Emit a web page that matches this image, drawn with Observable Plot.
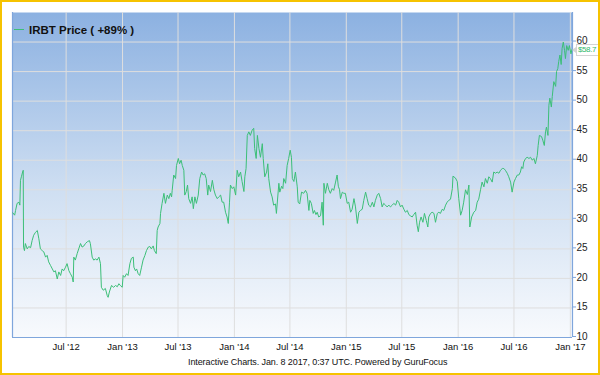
<!DOCTYPE html>
<html>
<head>
<meta charset="utf-8">
<script src="https://cdn.jsdelivr.net/npm/d3@7"></script>
<script src="https://cdn.jsdelivr.net/npm/@observablehq/plot@0.6"></script>
<style>
  html, body { margin: 0; padding: 0; background: #fff; }
  #wrap { position: relative; width: 600px; height: 375px; overflow: hidden; font-family: "Liberation Sans", Arial, sans-serif; }
  #wrap svg { position: absolute; left: 0; top: 0; }
  #border { position: absolute; left: 0; top: 0; width: 600px; height: 375px; box-sizing: border-box; border: 2px solid #f6c300; pointer-events: none; }
  #legend { position: absolute; left: 14px; top: 22px; font-size: 11.5px; font-weight: bold; color: #111; white-space: nowrap; line-height: 16px; }
  #legend .sw { display: inline-block; width: 10px; height: 0; border-top: 1px solid #3cbf78; vertical-align: middle; margin-right: 5px; position: relative; top: -1px; }
  #caption { position: absolute; left: 188px; top: 357px; font-size: 9px; color: #111; white-space: nowrap; letter-spacing: -0.1px; }
  #last { position: absolute; left: 576px; width: 20px; height: 10px; line-height: 10px; padding: 0 0 0 1px; background: #fff; border: 1px solid #d4d4d4; color: #2fb86c; font-size: 8px; letter-spacing: -0.4px; white-space: nowrap; overflow: hidden; }
  #lastArrow { position: absolute; left: 572px; width: 0; height: 0; border-top: 3px solid transparent; border-bottom: 3px solid transparent; border-right: 4px solid #d4d4d4; }
</style>
</head>
<body>
<div id="wrap">
  <div id="legend"><span class="sw"></span>IRBT Price ( +89% )</div>
  <div id="caption">Interactive Charts. Jan. 8 2017, 0:37 UTC. Powered by GuruFocus</div>
</div>
<script>
// ---- data ----
const dates = [
"2012-01-09","2012-01-15","2012-01-18","2012-01-23","2012-01-29","2012-02-01","2012-02-03","2012-02-06","2012-02-10","2012-02-12",
"2012-02-13","2012-02-16","2012-02-19","2012-02-25","2012-03-01","2012-03-07","2012-03-12","2012-03-17","2012-03-23","2012-03-29",
"2012-04-03","2012-04-08","2012-04-14","2012-04-19","2012-04-25","2012-04-30","2012-05-05","2012-05-11","2012-05-17","2012-05-22",
"2012-05-27","2012-06-02","2012-06-07","2012-06-13","2012-06-18","2012-06-23","2012-06-29","2012-07-04","2012-07-10","2012-07-15",
"2012-07-21","2012-07-24","2012-07-26","2012-07-31","2012-08-06","2012-08-11","2012-08-17","2012-08-22","2012-08-28","2012-09-02",
"2012-09-08","2012-09-15","2012-09-18","2012-09-24","2012-09-29","2012-10-05","2012-10-10","2012-10-16","2012-10-21","2012-10-24",
"2012-10-30","2012-11-06","2012-11-12","2012-11-15","2012-11-19","2012-11-26","2012-12-03","2012-12-09","2012-12-15","2012-12-20",
"2012-12-25","2012-12-31","2013-01-03","2013-01-08","2013-01-14","2013-01-19","2013-01-25","2013-01-30","2013-02-05","2013-02-07",
"2013-02-12","2013-02-16","2013-02-21","2013-02-26","2013-03-04","2013-03-09","2013-03-15","2013-03-20","2013-03-26","2013-03-31",
"2013-04-05","2013-04-11","2013-04-15","2013-04-21","2013-04-24","2013-04-27","2013-05-03","2013-05-05","2013-05-10","2013-05-16",
"2013-05-21","2013-05-27","2013-06-01","2013-06-06","2013-06-10","2013-06-12","2013-06-17","2013-06-23","2013-06-26","2013-07-02",
"2013-07-06","2013-07-11","2013-07-15","2013-07-20","2013-07-23","2013-07-28","2013-08-01","2013-08-05","2013-08-11","2013-08-16",
"2013-08-20","2013-08-25","2013-08-30","2013-09-05","2013-09-10","2013-09-16","2013-09-21","2013-09-26","2013-10-01","2013-10-06",
"2013-10-09","2013-10-15","2013-10-21","2013-10-26","2013-10-31","2013-11-06","2013-11-11","2013-11-17","2013-11-22","2013-11-27",
"2013-12-03","2013-12-08","2013-12-12","2013-12-16","2013-12-19","2013-12-25","2013-12-30","2014-01-05","2014-01-10","2014-01-15",
"2014-01-21","2014-01-26","2014-02-01","2014-02-04","2014-02-08","2014-02-12","2014-02-17","2014-02-22","2014-02-28","2014-03-05",
"2014-03-08","2014-03-13","2014-03-17","2014-03-22","2014-03-27","2014-04-02","2014-04-05","2014-04-10","2014-04-16","2014-04-20",
"2014-04-23","2014-04-29","2014-05-04","2014-05-09","2014-05-15","2014-05-18","2014-05-26","2014-05-29","2014-06-04","2014-06-08",
"2014-06-11","2014-06-17","2014-06-22","2014-06-27","2014-07-02","2014-07-06","2014-07-09","2014-07-14","2014-07-19","2014-07-25",
"2014-07-28","2014-08-02","2014-08-08","2014-08-15","2014-08-21","2014-08-26","2014-09-01","2014-09-04","2014-09-09","2014-09-15",
"2014-09-19","2014-09-24","2014-09-28","2014-10-03","2014-10-09","2014-10-14","2014-10-18","2014-10-20","2014-10-25","2014-10-31",
"2014-11-05","2014-11-10","2014-11-16","2014-11-21","2014-11-27","2014-12-02","2014-12-06","2014-12-10","2014-12-13","2014-12-19",
"2014-12-24","2014-12-29","2015-01-04","2015-01-09","2015-01-15","2015-01-20","2015-01-26","2015-01-31","2015-02-06","2015-02-11",
"2015-02-16","2015-02-22","2015-02-27","2015-03-05","2015-03-10","2015-03-15","2015-03-21","2015-03-27","2015-04-01","2015-04-06",
"2015-04-12","2015-04-17","2015-04-23","2015-04-28","2015-05-03","2015-05-09","2015-05-14","2015-05-20","2015-05-25","2015-05-31",
"2015-06-05","2015-06-11","2015-06-16","2015-06-21","2015-06-27","2015-07-02","2015-07-08","2015-07-13","2015-07-19","2015-07-24",
"2015-07-29","2015-08-04","2015-08-09","2015-08-15","2015-08-20","2015-08-24","2015-08-28","2015-09-02","2015-09-08","2015-09-13",
"2015-09-19","2015-09-24","2015-09-27","2015-10-03","2015-10-08","2015-10-14","2015-10-19","2015-10-25","2015-10-30","2015-11-04",
"2015-11-10","2015-11-15","2015-11-21","2015-11-26","2015-12-01","2015-12-07","2015-12-13","2015-12-15","2015-12-23","2015-12-29",
"2016-01-03","2016-01-09","2016-01-14","2016-01-19","2016-01-25","2016-01-31","2016-02-05","2016-02-08","2016-02-14","2016-02-21",
"2016-02-27","2016-03-03","2016-03-08","2016-03-14","2016-03-19","2016-03-25","2016-03-30","2016-04-05","2016-04-10","2016-04-15",
"2016-04-21","2016-04-26","2016-05-02","2016-05-07","2016-05-13","2016-05-18","2016-05-24","2016-05-29","2016-06-03","2016-06-09",
"2016-06-14","2016-06-20","2016-06-25","2016-07-01","2016-07-06","2016-07-12","2016-07-17","2016-07-22","2016-07-26","2016-07-30",
"2016-08-02","2016-08-08","2016-08-13","2016-08-19","2016-08-24","2016-08-30","2016-09-04","2016-09-09","2016-09-15","2016-09-18",
"2016-09-22","2016-09-29","2016-10-03","2016-10-08","2016-10-12","2016-10-15","2016-10-20","2016-10-23","2016-10-26","2016-10-31",
"2016-11-03","2016-11-08","2016-11-14","2016-11-17","2016-11-21","2016-11-24","2016-11-28","2016-12-02","2016-12-05","2016-12-09",
"2016-12-13","2016-12-16","2016-12-20","2016-12-25","2016-12-29","2017-01-03","2017-01-06"
];
const prices = [
31.1,30.7,31.5,32.7,32.9,32.4,36.6,37.2,38.0,38.3,
25.3,24.7,25.9,25.0,25.4,25.2,26.4,27.3,27.8,28.1,
26.7,25.0,24.7,24.5,23.6,23.9,22.8,22.2,21.6,21.1,
21.3,19.9,21.1,20.5,21.6,21.3,21.9,22.5,21.3,20.8,
20.2,19.4,23.6,23.1,24.2,25.0,25.9,25.3,25.5,25.9,
26.2,26.4,25.9,23.6,23.1,23.3,23.1,23.6,22.5,18.5,
18.0,18.3,17.1,16.8,17.7,18.8,18.5,18.8,18.6,19.1,
18.8,18.5,20.5,20.2,20.8,20.5,22.5,23.4,23.6,21.9,
21.3,21.6,20.8,20.5,21.9,23.1,23.9,24.7,25.3,25.4,
25.0,25.5,24.7,24.2,28.1,28.7,29.3,31.0,32.7,34.4,
32.7,34.1,33.5,34.4,33.8,34.9,37.5,36.9,39.1,40.3,
39.4,40.0,39.1,38.3,34.1,34.7,35.8,33.5,32.7,33.8,
31.8,33.8,32.7,34.1,36.9,38.0,37.5,37.7,36.9,34.1,
35.8,34.7,36.6,35.0,34.1,33.5,33.8,34.1,32.9,32.9,
31.2,30.4,29.3,32.9,35.8,35.2,35.5,34.1,38.3,37.2,
38.0,36.4,34.7,37.2,38.6,44.2,44.8,44.2,45.1,45.4,
42.0,40.3,44.2,42.0,40.5,42.8,40.3,37.2,38.0,39.4,
36.9,34.6,33.8,32.4,32.6,31.0,36.1,34.6,35.6,35.2,
36.9,36.1,39.1,40.3,41.7,40.5,36.9,36.4,38.0,35.5,
32.9,32.6,34.6,34.4,34.9,34.4,31.5,33.2,32.7,31.0,
31.5,30.8,31.2,30.4,30.6,32.9,29.0,36.1,34.4,36.1,
35.0,34.4,35.2,34.9,36.3,37.5,35.6,35.0,33.5,34.6,
34.4,34.4,32.7,32.9,31.2,31.7,33.5,32.1,29.3,31.2,
31.5,31.7,33.2,34.6,33.5,32.4,32.1,32.9,32.1,33.2,
34.1,34.4,33.5,32.1,32.7,32.4,32.1,32.4,32.1,32.4,
32.7,32.4,33.2,32.9,32.1,32.4,31.7,31.2,31.5,30.8,
30.6,30.4,30.8,31.2,29.0,27.9,29.5,30.4,29.5,31.0,
29.8,28.7,30.4,31.0,31.2,31.0,29.5,31.0,31.2,31.0,
31.7,31.5,32.4,32.9,33.2,33.4,35.2,37.3,37.0,36.4,
33.5,30.7,31.5,32.9,35.0,34.2,35.8,28.7,30.4,31.2,
31.5,32.9,33.4,35.0,36.3,35.5,36.9,36.1,37.2,36.9,
36.3,38.0,37.8,38.0,37.8,38.3,38.6,38.6,38.3,37.8,
37.2,36.3,34.6,36.3,36.9,37.5,37.5,38.0,38.9,38.6,
39.7,40.3,40.5,40.3,40.5,40.0,40.3,39.4,40.8,42.5,
44.2,44.0,43.4,42.5,44.8,45.6,44.2,49.3,50.5,49.0,
50.8,53.3,52.5,55.0,55.5,56.7,57.8,56.2,58.9,60.0,
58.6,57.2,59.4,58.6,59.4,58.0,58.7
];
const xDomain = ["2012-01-08", "2017-01-08"];
const yDomain = [10, 65];
const xTickDates = ["2012-07-01","2013-01-01","2013-07-01","2014-01-01","2014-07-01","2015-01-01","2015-07-01","2016-01-01","2016-07-01","2017-01-01"];
const xTickLabels = ["Jul '12","Jan '13","Jul '13","Jan '14","Jul '14","Jan '15","Jul '15","Jan '16","Jul '16","Jan '17"];
const yTicks = [10, 15, 20, 25, 30, 35, 40, 45, 50, 55, 60];
const lastLabel = "$58.7";

// ---- build ----
const data = dates.map((d, i) => ({date: new Date(d), price: prices[i]}));
const xd = xDomain.map(d => new Date(d));
const xt = xTickDates.map(d => new Date(d));
const axisBlue = "#7fa6dc";
const gridCol = "#dedede";

const plot = Plot.plot({
  width: 600,
  height: 375,
  marginLeft: 12,
  marginRight: 28,
  marginTop: 12,
  marginBottom: 38,
  style: {fontFamily: "'Liberation Sans', Arial, sans-serif", fontSize: "10px", background: "transparent", color: "#222", overflow: "visible"},
  x: {type: "utc", domain: xd},
  y: {domain: yDomain},
  marks: [
    Plot.frame({fill: "url(#bgGrad)", stroke: null}),
    Plot.gridY(yTicks, {stroke: gridCol, strokeOpacity: 1}),
    Plot.gridX(xt, {stroke: gridCol, strokeOpacity: 1}),
    Plot.ruleY([yDomain[0]], {stroke: axisBlue, strokeWidth: 1.2}),
    Plot.ruleX([xd[0]], {stroke: axisBlue, strokeWidth: 1.2}),
    Plot.ruleX([xd[1]], {stroke: axisBlue, strokeWidth: 1.2}),
    Plot.axisY(yTicks, {anchor: "right", tickSize: 3, tickPadding: 1, stroke: axisBlue, fill: "#222", label: null, fontSize: 10, dy: -1}),
    Plot.axisX(xt, {anchor: "bottom", tickSize: 0, tickPadding: 6, label: null, fill: "#111", fontSize: 9.5,
      tickFormat: d => xTickLabels[xt.findIndex(t => +t === +d)]}),
    Plot.line(data, {x: "date", y: "price", stroke: "#3cbf78", strokeWidth: 1})
  ]
});

const svg = d3.select(plot);
const defs = svg.insert("defs", ":first-child");
const grad = defs.append("linearGradient").attr("id", "bgGrad").attr("x1", 0).attr("y1", 0).attr("x2", 0).attr("y2", 1);
grad.append("stop").attr("offset", "0%").attr("stop-color", "#8cb1e1");
grad.append("stop").attr("offset", "55%").attr("stop-color", "#cfdff2");
grad.append("stop").attr("offset", "100%").attr("stop-color", "#f8fafd");

const wrap = document.getElementById("wrap");
wrap.insertBefore(plot, wrap.firstChild);

// last-value label positioned with the plot's own y scale
const yPix = plot.scale("y").apply(prices[prices.length - 1]);
const arrow = document.createElement("div");
arrow.id = "lastArrow";
arrow.style.top = (yPix - 2.5) + "px";
wrap.appendChild(arrow);
const last = document.createElement("div");
last.id = "last";
last.textContent = lastLabel;
last.style.top = (yPix - 5) + "px";
wrap.appendChild(last);

const border = document.createElement("div");
border.id = "border";
wrap.appendChild(border);
</script>
</body>
</html>
